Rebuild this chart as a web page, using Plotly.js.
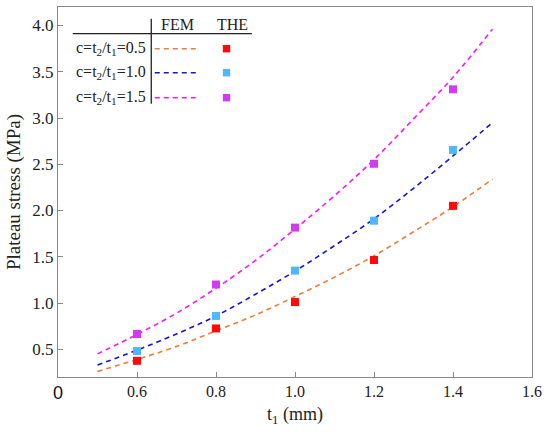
<!DOCTYPE html>
<html>
<head>
<meta charset="utf-8">
<script src="https://cdn.plot.ly/plotly-3.0.1.min.js"></script>
<style>html,body{margin:0;padding:0;background:#fff;}#chart{width:550px;height:442px;}</style>
</head>
<body>
<div id="chart"></div>
<script>
// THE (theoretical) points
var theT = [0.6, 0.8, 1.0, 1.2, 1.4];
var theC05 = [0.375, 0.725, 1.01, 1.465, 2.05];
var theC10 = [0.48, 0.86, 1.35, 1.89, 2.655];
var theC15 = [0.665, 1.20, 1.815, 2.505, 3.31];

// FEM curves
var femT = [0.5, 0.6, 0.7, 0.8, 0.9, 1.0, 1.1, 1.2, 1.3, 1.4, 1.5];
var femC05 = [0.26, 0.39, 0.53, 0.70, 0.87, 1.07, 1.28, 1.51, 1.77, 2.04, 2.34];
var femC10 = [0.33, 0.49, 0.665, 0.86, 1.095, 1.345, 1.62, 1.91, 2.24, 2.59, 2.95];
var femC15 = [0.45, 0.66, 0.89, 1.16, 1.46, 1.80, 2.16, 2.55, 2.99, 3.44, 3.96];

var seriesNames = ['c=t<sub>2</sub>/t<sub>1</sub>=0.5', 'c=t<sub>2</sub>/t<sub>1</sub>=1.0', 'c=t<sub>2</sub>/t<sub>1</sub>=1.5'];
var originLabel = '0';

var lineColors = ['#F47A36', '#1414E0', '#FF14FF'];
var markColors = ['#FF0A0A', '#4DB8FF', '#D23CF0'];
var femSets = [femC05, femC10, femC15];
var theSets = [theC05, theC10, theC15];

var FONT = 'Liberation Serif';
var traces = [];
for (var i = 0; i < 3; i++) {
  traces.push({
    x: femT, y: femSets[i], type: 'scatter', mode: 'lines', line: {color: lineColors[i], width: 1.6, dash: '5px,4px', shape: 'spline'},
    name: 'FEM ' + seriesNames[i], showlegend: false, hoverinfo: 'skip'
  });
}
for (var j = 0; j < 3; j++) {
  traces.push({
    x: theT, y: theSets[j], type: 'scatter', mode: 'markers', marker: {symbol: 'square', size: 8, color: markColors[j]},
    name: 'THE ' + seriesNames[j], showlegend: false, hoverinfo: 'skip'
  });
}

// Legend table (decoration in paper coordinates)
var W = 473.7, H = 370, L = 58.3, B = 377.3;
function px(x) { return (x - L) / W; }
function py(y) { return (B - y) / H; }
var rowsY = [49, 73, 98];
var shapes = [
  {type: 'line', xref: 'paper', yref: 'paper', x0: px(73), x1: px(252), y0: py(34), y1: py(34), line: {color: '#222', width: 1.3}},
  {type: 'line', xref: 'paper', yref: 'paper', x0: px(151.5), x1: px(151.5), y0: py(19), y1: py(104), line: {color: '#222', width: 1.3}}
];
var annotations = [
  {xref: 'paper', yref: 'paper', x: px(178), y: py(25), text: 'FEM', showarrow: false, xanchor: 'center', yanchor: 'middle', font: {family: FONT, size: 16, color: '#222'}},
  {xref: 'paper', yref: 'paper', x: px(233), y: py(25), text: 'THE', showarrow: false, xanchor: 'center', yanchor: 'middle', font: {family: FONT, size: 16, color: '#222'}},
  {xref: 'x', yref: 'paper', x: 0.4, y: py(393), text: originLabel, showarrow: false, xanchor: 'center', yanchor: 'middle', font: {family: 'Liberation Sans', size: 18, color: '#111'}}
];
for (var k = 0; k < 3; k++) {
  annotations.push({xref: 'paper', yref: 'paper', x: px(74), y: py(rowsY[k]), text: seriesNames[k], showarrow: false, xanchor: 'left', yanchor: 'middle', font: {family: FONT, size: 16, color: '#222'}});
  shapes.push({type: 'line', xref: 'paper', yref: 'paper', x0: px(155), x1: px(200), y0: py(rowsY[k]), y1: py(rowsY[k]), line: {color: lineColors[k], width: 1.6, dash: '5px,4px'}});
  shapes.push({type: 'rect', xref: 'paper', yref: 'paper', x0: px(226.7 - 3.7), x1: px(226.7 + 3.7), y0: py(rowsY[k] + 3.7), y1: py(rowsY[k] - 3.7), line: {width: 0}, fillcolor: markColors[k]});
}

var layout = {
  width: 550, height: 442,
  margin: {l: 58, r: 18, t: 7, b: 65},
  paper_bgcolor: '#fff', plot_bgcolor: '#fff',
  font: {family: FONT, color: '#222', size: 16},
  showlegend: false,
  xaxis: {
    range: [0.4, 1.6], tickmode: 'linear', tick0: 0.6, dtick: 0.2, tickformat: '.1f', labelalias: {'0.4': ' '},
    ticks: 'inside', ticklen: 5, tickcolor: '#888', tickwidth: 1,
    showline: true, linecolor: '#888', linewidth: 1.2, mirror: true,
    showgrid: false, zeroline: false,
    tickfont: {family: FONT, size: 16, color: '#222'},
    title: {text: 't<sub>1</sub> (mm)', font: {family: FONT, size: 18, color: '#222'}, standoff: 8}
  },
  yaxis: {
    range: [0.2, 4.2], tickmode: 'linear', tick0: 0.5, dtick: 0.5, tickformat: '.1f',
    ticks: 'inside', ticklen: 5, tickcolor: '#888', tickwidth: 1,
    showline: true, linecolor: '#888', linewidth: 1.2, mirror: true,
    showgrid: false, zeroline: false,
    tickfont: {family: FONT, size: 17, color: '#222'},
    title: {text: 'Plateau stress (MPa)', font: {family: FONT, size: 19, color: '#222'}, standoff: 6}
  },
  shapes: shapes,
  annotations: annotations
};

Plotly.newPlot('chart', traces, layout, {displayModeBar: false, staticPlot: true});
</script>
</body>
</html>
